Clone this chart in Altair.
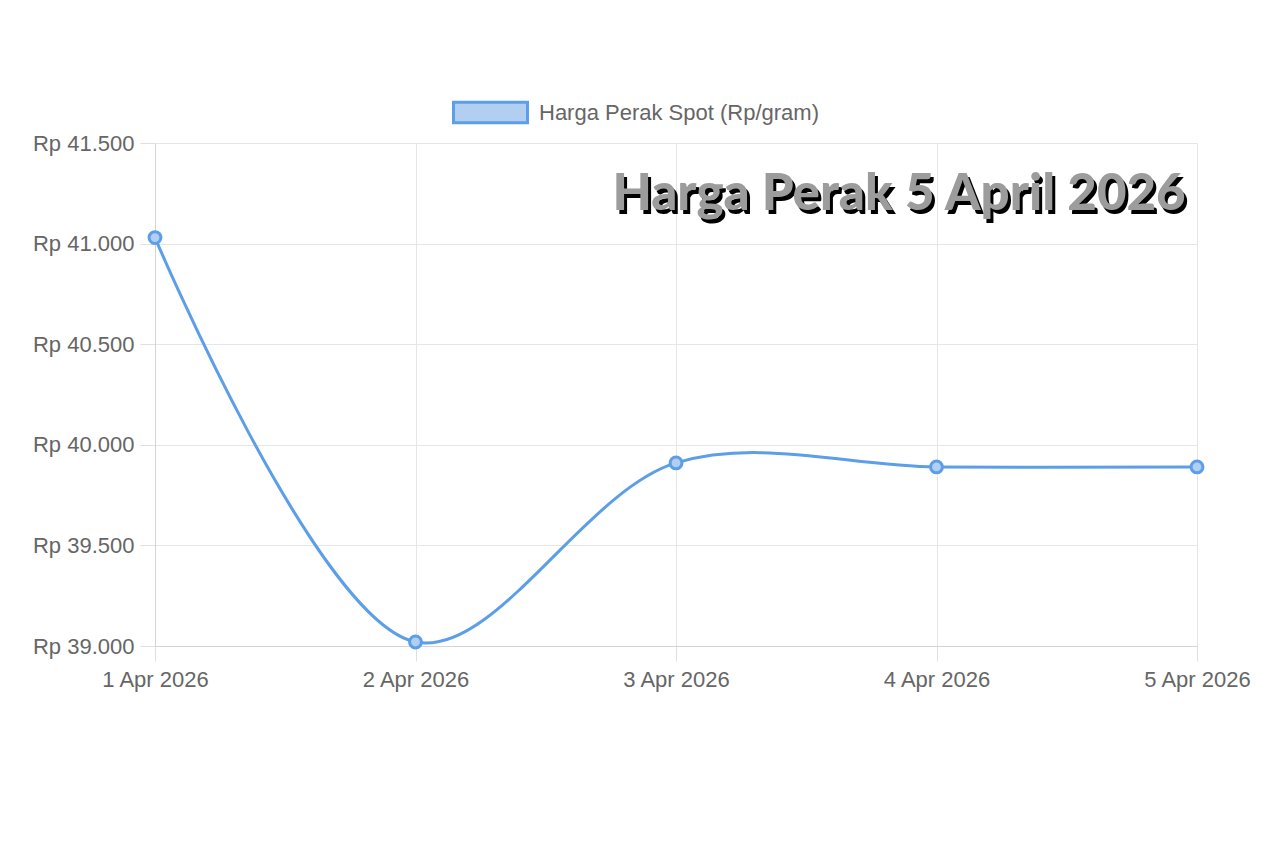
import altair as alt
import pandas as pd

dates = ["1 Apr 2026", "2 Apr 2026", "3 Apr 2026", "4 Apr 2026", "5 Apr 2026"]
prices = [41030, 39020, 39910, 39890, 39890]
series_name = "Harga Perak Spot (Rp/gram)"
title_text = "Harga Perak 5 April 2026"
y_ticks = [39000, 39500, 40000, 40500, 41000, 41500]

df = pd.DataFrame({"date": dates, "price": prices, "series": [series_name] * len(dates)})

LINE = "#5c9ee8"
FILL = "#b2cff2"

x_enc = alt.X("date:O", sort=dates, scale=alt.Scale(type="point", padding=0),
              axis=alt.Axis(title=None, labelAngle=0, grid=True))
y_enc = alt.Y("price:Q", scale=alt.Scale(domain=[39000, 41500], nice=False, zero=False),
              axis=alt.Axis(title=None, values=y_ticks, grid=True,
                            labelExpr="'Rp ' + replace(format(datum.value, ','), ',', '.')"))

color_enc = alt.Color("series:N", scale=alt.Scale(range=[LINE]),
                      legend=alt.Legend(title=None, orient="none", legendX=297, legendY=-69,
                                        symbolType="M-1,-0.28H1V0.28H-1Z", symbolSize=5476,
                                        symbolFillColor=FILL, symbolStrokeColor=LINE,
                                        symbolStrokeWidth=3, symbolOpacity=1,
                                        labelFontSize=22, labelColor="#666666",
                                        labelFont="Liberation Sans", labelOffset=10,
                                        labelLimit=600))

base = alt.Chart(df)

line = base.mark_line(interpolate="catmull-rom", strokeWidth=3).encode(
    x=x_enc, y=y_enc, color=color_enc)

points = base.mark_point(filled=True, size=140, fill=FILL, stroke=LINE, strokeWidth=3,
                         opacity=1).encode(x=x_enc, y=y_enc)

tdf = pd.DataFrame({"t": [title_text]})
shadow = alt.Chart(tdf).mark_text(font="Lato", fontWeight=900, fontSize=51, color="#000000",
                                  align="center", baseline="alphabetic").encode(
    text="t:N", x=alt.value(747), y=alt.value(71))
front = alt.Chart(tdf).mark_text(font="Lato", fontWeight=900, fontSize=51, color="#9c9c9c",
                                 align="center", baseline="alphabetic").encode(
    text="t:N", x=alt.value(744), y=alt.value(67))

chart = alt.layer(line, points, shadow, front).properties(
    width=1042, height=503,
    autosize=alt.AutoSizeParams(type="none"),
    padding={"left": 147, "top": 135, "right": 75, "bottom": 197},
    background="#ffffff",
).configure_axis(
    labelFont="Liberation Sans", labelFontSize=22, labelColor="#666666",
    gridColor="#e6e6e6", tickColor="#e0e0e0", domainColor="#d4d4d4",
    tickSize=15, labelPadding=6, gridWidth=1, domainWidth=1,
).configure_axisX(labelPadding=8).configure_view(stroke="#e6e6e6")

chart.save("out.html", embed_options={"renderer": "svg", "actions": False})
